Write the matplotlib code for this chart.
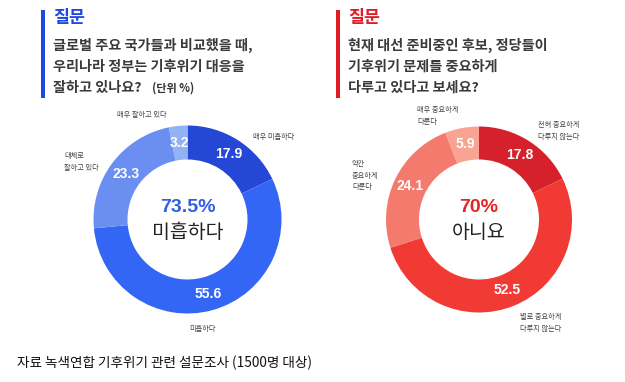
import matplotlib
matplotlib.use("Agg")
import matplotlib.pyplot as plt
import numpy as np

plt.rcParams['font.family'] = ['Noto Sans CJK KR', 'DejaVu Sans']

# ---- data ----
left_labels = ['매우 미흡하다', '미흡하다', '대체로\n잘하고 있다', '매우 잘하고 있다']
left_values = [17.9, 55.6, 23.3, 3.2]
left_colors = ['#2447d6', '#3366f5', '#6b8ff0', '#93b2f6']
left_center_value = '73.5%'
left_center_label = '미흡하다'

right_labels = ['전혀 중요하게\n다루지 않는다', '별로 중요하게\n다루지 않는다', '약간\n중요하게\n다룬다', '매우 중요하게\n다룬다']
right_values = [17.8, 52.5, 24.1, 5.9]
right_colors = ['#d6202b', '#f23a35', '#f57a6e', '#f9a393']
right_center_value = '70%'
right_center_label = '아니요'

left_title = ['글로벌 주요 국가들과 비교했을 때,', '우리나라 정부는 기후위기 대응을', '잘하고 있나요?']
right_title = ['현재 대선 준비중인 후보, 정당들이', '기후위기 문제를 중요하게', '다루고 있다고 보세요?']
unit_note = '(단위 %)'
footer = '자료 녹색연합 기후위기 관련 설문조사 (1500명 대상)'

W, H = 625, 382
fig = plt.figure(figsize=(6.25, 3.82), dpi=100)
ax = fig.add_axes([0, 0, 1, 1])

def Y(y):  # image y (top-down) -> data y (bottom-up)
    return H - y

def donut(values, colors, cx, cy, R, width, labels, label_pos, label_ha,
          cval, clabel, ccolor):
    ax.pie(values, center=(cx, Y(cy)), radius=R, startangle=90, counterclock=False,
           colors=colors, wedgeprops=dict(width=width, linewidth=0))
    total = sum(values)
    cum = 0
    rmid = R - width / 2
    for v in values:
        mid = 90 - (cum + v / 2) / total * 360
        cum += v
        a = np.deg2rad(mid)
        ax.text(cx + rmid * np.cos(a), Y(cy) + rmid * np.sin(a), f'{v}',
                color='white', fontsize=10, fontweight='bold',
                family=['Liberation Sans'], ha='center', va='center')
    for lab, (lx, ly), ha in zip(labels, label_pos, label_ha):
        ax.text(lx, Y(ly), lab, fontsize=5.2, color='#444444', ha=ha, va='top',
                linespacing=1.6)
    ax.text(cx, Y(cy - 12), cval, fontsize=14, fontweight='bold', color=ccolor,
            family=['Liberation Sans'], ha='center', va='center')
    ax.text(cx, Y(cy + 13), clabel, fontsize=14, color='#222222',
            ha='center', va='center')

donut(left_values, left_colors, 187.5, 219.5, 94, 34, left_labels,
      [(253, 133), (203, 325), (64, 152), (142, 111)],
      ['left', 'center', 'left', 'center'],
      left_center_value, left_center_label, '#2f5fe8')

donut(right_values, right_colors, 479, 219.5, 93, 33, right_labels,
      [(538, 121), (520, 313), (352, 160), (417, 106)],
      ['left', 'left', 'left', 'left'],
      right_center_value, right_center_label, '#e32626')

# titles
def title_block(x_bar, color, lines):
    ax.add_patch(plt.Rectangle((x_bar, Y(98)), 4, 88, color=color, lw=0))
    ax.text(x_bar + 12, Y(18), '질문', fontsize=12.5, fontweight='bold', color=color,
            ha='left', va='center')
    for ly, line in zip([45, 67, 88], lines):
        ax.text(x_bar + 12, Y(ly), line, fontsize=10.2, fontweight='bold',
                color='#3a3a3a', ha='left', va='center')

title_block(41, '#1f48e0', left_title)
ax.text(152, Y(88), unit_note, fontsize=8, fontweight='bold', color='#333333',
        ha='left', va='center')
title_block(336, '#e01b24', right_title)

ax.text(17, Y(363), footer, fontsize=9.8, color='#111111',
        ha='left', va='center')

ax.set_xlim(0, W)
ax.set_ylim(0, H)
ax.set_aspect('equal')
ax.axis('off')
fig.savefig('out.png', dpi=100, facecolor='white')
